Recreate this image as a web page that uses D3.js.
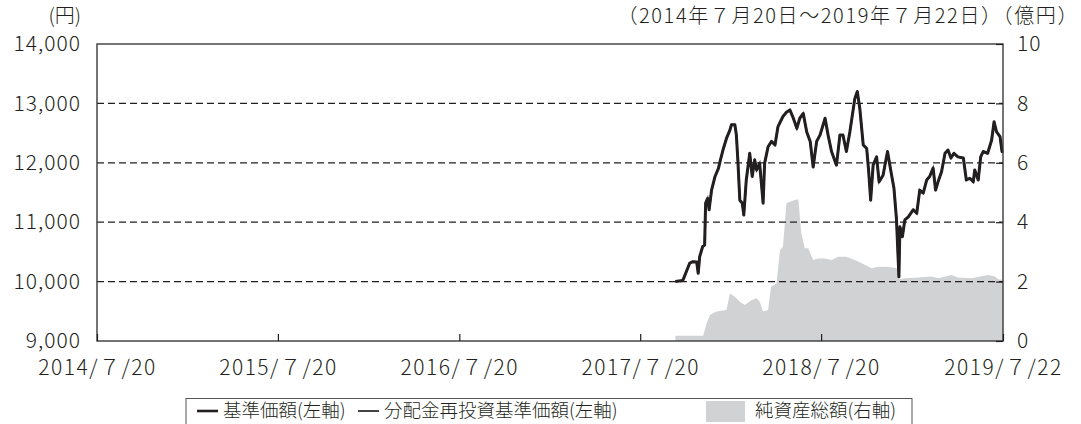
<!DOCTYPE html>
<html><head><meta charset="utf-8">
<script src="https://cdn.jsdelivr.net/npm/d3@7"></script>
<style>
html,body{margin:0;padding:0;background:#fff;}
svg text{font-family:"Noto Sans CJK JP","Noto Sans",sans-serif;fill:#231f20;font-weight:300;}
</style></head><body>
<svg id="c" width="1081" height="424"></svg>
<script>
// ---- data ----
const priceDates = ["2017-09-29","2017-10-14","2017-10-28","2017-11-03","2017-11-11","2017-11-14","2017-11-17","2017-11-23","2017-11-27","2017-11-29","2017-12-03","2017-12-06","2017-12-11","2017-12-18","2017-12-25","2017-12-28","2018-01-03","2018-01-10","2018-01-17","2018-01-20","2018-01-27","2018-01-30","2018-02-02","2018-02-06","2018-02-11","2018-02-14","2018-02-19","2018-02-26","2018-03-03","2018-03-08","2018-03-12","2018-03-18","2018-03-25","2018-03-28","2018-04-04","2018-04-11","2018-04-18","2018-04-24","2018-05-04","2018-05-11","2018-05-18","2018-05-25","2018-06-01","2018-06-07","2018-06-14","2018-06-21","2018-06-28","2018-07-04","2018-07-11","2018-07-18","2018-07-28","2018-08-03","2018-08-10","2018-08-20","2018-08-27","2018-09-02","2018-09-09","2018-09-16","2018-09-26","2018-10-01","2018-10-06","2018-10-13","2018-10-20","2018-10-24","2018-10-28","2018-11-02","2018-11-09","2018-11-14","2018-11-22","2018-12-01","2018-12-08","2018-12-14","2018-12-19","2018-12-24","2018-12-26","2018-12-31","2019-01-05","2019-01-12","2019-01-22","2019-01-29","2019-02-04","2019-02-11","2019-02-18","2019-02-24","2019-03-03","2019-03-08","2019-03-13","2019-03-20","2019-03-27","2019-04-02","2019-04-08","2019-04-14","2019-04-22","2019-05-03","2019-05-09","2019-05-16","2019-05-23","2019-05-26","2019-06-02","2019-06-07","2019-06-12","2019-06-21","2019-06-29","2019-07-04","2019-07-09","2019-07-16","2019-07-20","2019-07-22"];
const basePrice = [10000,10020,10313,10335,10330,10140,10420,10590,10615,11320,11400,11210,11540,11770,11910,12020,12215,12410,12550,12640,12640,12470,12050,11370,11320,11120,11710,12160,11770,12050,11880,11990,11320,11990,12270,12360,12300,12610,12780,12850,12890,12750,12580,12750,12830,12520,12360,11930,12360,12470,12750,12470,12190,11960,12470,12470,12190,12520,13080,13200,12920,12300,12240,11850,11370,11960,12100,11680,11790,12190,11850,11570,11060,10080,10925,10755,11040,11090,11210,11150,11540,11490,11710,11770,11910,11540,11680,11850,12160,12215,12080,12160,12100,12080,11710,11740,11680,11880,11710,12100,12190,12160,12380,12690,12520,12440,12190,12200];
// no distributions paid: reinvested NAV equals base NAV
const reinvestPrice = basePrice.slice();

const assetDates = ["2017-09-29","2017-11-24","2017-12-01","2017-12-08","2017-12-21","2018-01-10","2018-01-17","2018-01-27","2018-02-06","2018-02-16","2018-03-02","2018-03-12","2018-03-18","2018-03-25","2018-04-04","2018-04-10","2018-04-21","2018-04-28","2018-05-04","2018-05-11","2018-05-18","2018-05-28","2018-06-04","2018-06-10","2018-06-17","2018-06-24","2018-07-04","2018-07-14","2018-07-28","2018-08-10","2018-08-23","2018-09-09","2018-09-26","2018-10-17","2018-10-30","2018-11-12","2018-12-02","2018-12-20","2018-12-25","2019-01-05","2019-02-01","2019-02-28","2019-03-13","2019-04-09","2019-04-22","2019-05-19","2019-06-22","2019-07-06","2019-07-12","2019-07-22"];
const netAssets = [0.18,0.18,0.6,0.88,0.99,1.04,1.6,1.49,1.32,1.21,1.38,1.44,1.32,0.99,1.04,1.83,1.94,3.06,3.17,4.64,4.69,4.75,4.77,3.63,3.12,3.12,2.73,2.78,2.78,2.73,2.84,2.84,2.73,2.56,2.45,2.5,2.5,2.45,2.08,2.11,2.14,2.17,2.11,2.22,2.14,2.11,2.22,2.17,2.08,2.05];

const xTickDates = ["2014-07-20","2015-07-20","2016-07-20","2017-07-20","2018-07-20","2019-07-22"];
const xTickLabels = ["2014/７/20","2015/７/20","2016/７/20","2017/７/20","2018/７/20","2019/７/22"];
const leftTicks = [9000,10000,11000,12000,13000,14000];
const rightTicks = [0,2,4,6,8,10];
const gridValues = [10000,11000,12000,13000];
const legendLabels = ["基準価額(左軸)","分配金再投資基準価額(左軸)","純資産総額(右軸)"];

// ---- layout ----
const L=97, R=1003, T=44, B=341;
const parse = d3.timeParse("%Y-%m-%d");
const svg = d3.select("#c");
const x = d3.scaleTime().domain([parse("2014-07-20"), parse("2019-07-22")]).range([L,R]);
const yL = d3.scaleLinear().domain([9000,14000]).range([B,T]);
const yR = d3.scaleLinear().domain([0,10]).range([B,T]);

// area
const aData = assetDates.map((d,i)=>({d:parse(d),v:netAssets[i]}));
svg.append("path").datum(aData)
  .attr("d", d3.area().x(p=>x(p.d)).y0(yR(0)).y1(p=>yR(p.v)))
  .attr("fill","#d1d2d4");

// grid
svg.append("g").selectAll("line").data(gridValues).join("line")
  .attr("x1",L).attr("x2",R).attr("y1",d=>yL(d)).attr("y2",d=>yL(d))
  .attr("stroke","#231f20").attr("stroke-width",1.2).attr("stroke-dasharray","7,4");

// lines
const pData = priceDates.map((d,i)=>({d:parse(d),v:basePrice[i]}));
const rData = priceDates.map((d,i)=>({d:parse(d),v:reinvestPrice[i]}));
const line = d3.line().x(p=>x(p.d)).y(p=>yL(p.v));
svg.append("path").datum(rData).attr("d",line).attr("fill","none").attr("stroke","#444").attr("stroke-width",2);
svg.append("path").datum(pData).attr("d",line).attr("fill","none").attr("stroke","#231f20").attr("stroke-width",3).attr("stroke-linejoin","round");

// frame
svg.append("rect").attr("x",L).attr("y",T).attr("width",R-L).attr("height",B-T)
  .attr("fill","none").attr("stroke","#3a3a3a").attr("stroke-width",1.4);

// axes
const fmt = d3.format(",");
const gx = svg.append("g").attr("transform",`translate(0,${B})`)
  .call(d3.axisBottom(x).tickValues(xTickDates.map(parse)).tickFormat((d,i)=>xTickLabels[i]).tickSizeInner(-7).tickSizeOuter(0));
gx.select(".domain").remove();
gx.selectAll("line").attr("stroke","#231f20").attr("stroke-width",1.2);
gx.selectAll("text").attr("y",27).attr("dy","0.35em").style("font-size","21px").style("letter-spacing","1.5px").attr("fill","#231f20");

const gl = svg.append("g").attr("transform",`translate(${L},0)`)
  .call(d3.axisLeft(yL).tickValues(leftTicks).tickFormat(fmt).tickSizeInner(0).tickSizeOuter(0).tickPadding(16));
gl.select(".domain").remove();
gl.selectAll("text").style("font-size","21px").style("letter-spacing","1px").attr("fill","#231f20");

const gr = svg.append("g").attr("transform",`translate(${R},0)`)
  .call(d3.axisRight(yR).tickValues(rightTicks).tickSizeInner(-7).tickSizeOuter(0).tickPadding(14));
gr.select(".domain").remove();
gr.selectAll("line").attr("stroke","#231f20").attr("stroke-width",1.2);
gr.selectAll("text").style("font-size","21px").style("letter-spacing","1px").attr("fill","#231f20");

// unit labels
svg.append("text").attr("x",81).attr("y",23).attr("text-anchor","end").style("font-size","20px").text("(円)");
svg.append("text").attr("x",1079).attr("y",23).attr("text-anchor","end").style("font-size","20px").style("letter-spacing","1.6px").text("（2014年７月20日～2019年７月22日）（億円）");

// legend
const lg = svg.append("g");
lg.append("rect").attr("x",186).attr("y",398.5).attr("width",726).attr("height",30).attr("fill","#fff").attr("stroke","#555").attr("stroke-width",1);
lg.append("line").attr("x1",197).attr("x2",218).attr("y1",411).attr("y2",411).attr("stroke","#231f20").attr("stroke-width",2.6);
lg.append("text").attr("x",223).attr("y",411).attr("dy","0.35em").style("font-size","18.5px").text(legendLabels[0]);
lg.append("line").attr("x1",358).attr("x2",379).attr("y1",411).attr("y2",411).attr("stroke","#444").attr("stroke-width",2);
lg.append("text").attr("x",384).attr("y",411).attr("dy","0.35em").style("font-size","18.5px").text(legendLabels[1]);
lg.append("rect").attr("x",706).attr("y",401).attr("width",39).attr("height",21).attr("fill","#d1d2d4");
lg.append("text").attr("x",755).attr("y",411).attr("dy","0.35em").style("font-size","18.5px").text(legendLabels[2]);
</script></body></html>
